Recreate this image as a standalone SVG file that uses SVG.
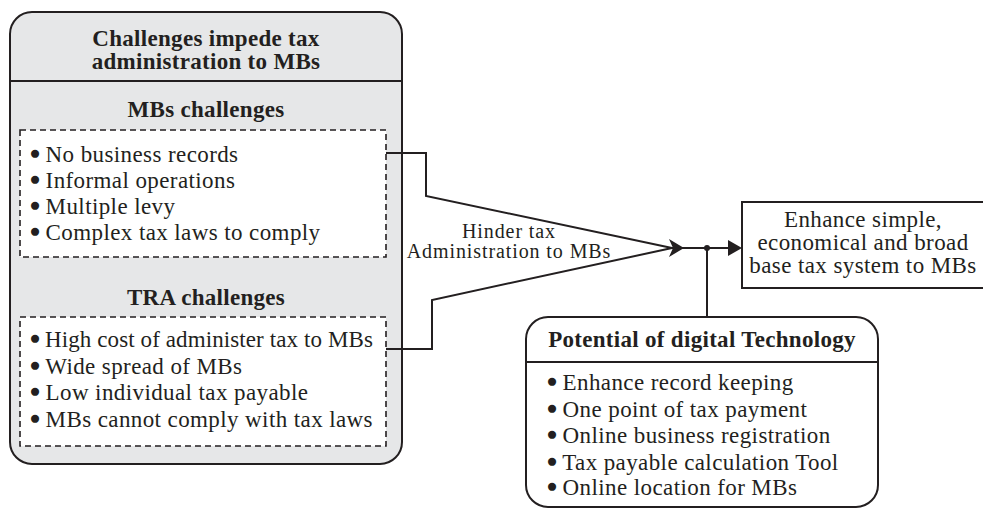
<svg xmlns="http://www.w3.org/2000/svg" width="983" height="509" viewBox="0 0 983 509">
<style>
  .t { font-family: "Liberation Serif", "Times New Roman", serif; fill: #231f20; }
  .b { font-weight: bold; font-size: 23px; letter-spacing: 0.3px; text-anchor: middle; }
  .r { font-size: 23px; letter-spacing: 0.4px; }
  .tight { letter-spacing: 0.1px; }
  .bl { stroke: #231f20; stroke-width: 2.6px; stroke-linejoin: round; }
  .c { text-anchor: middle; }
  .h { font-size: 20px; letter-spacing: 0.9px; }
  .box { stroke: #231f20; stroke-width: 2; }
  .dash { fill: #ffffff; stroke: #231f20; stroke-width: 1.6; stroke-dasharray: 6 4; }
  .con { fill: none; stroke: #231f20; stroke-width: 2; }
</style>
<rect width="983" height="509" fill="#ffffff"/>

<g id="challenges">
  <rect class="box" x="10" y="12" width="392" height="452" rx="22" fill="#e6e7e8"/>
  <line class="box" x1="10" y1="81" x2="402" y2="81"/>
  <text class="t b" x="206" y="46">Challenges impede tax</text>
  <text class="t b" x="206" y="69">administration to MBs</text>
</g>

<g id="mbs-challenges">
  <text class="t b" x="206" y="117">MBs challenges</text>
  <rect class="dash" x="20" y="130" width="366" height="127"/>
  <text class="t r" x="31" y="162"><tspan class="bl">•</tspan> No business records</text>
  <text class="t r" x="31" y="188"><tspan class="bl">•</tspan> Informal operations</text>
  <text class="t r" x="31" y="214"><tspan class="bl">•</tspan> Multiple levy</text>
  <text class="t r" x="31" y="240"><tspan class="bl">•</tspan> Complex tax laws to comply</text>
</g>

<g id="tra-challenges">
  <text class="t b" x="206" y="305">TRA challenges</text>
  <rect class="dash" x="20" y="317" width="366" height="129"/>
  <text class="t r tight" x="31" y="347"><tspan class="bl">•</tspan> High cost of administer tax to MBs</text>
  <text class="t r" x="31" y="374"><tspan class="bl">•</tspan> Wide spread of MBs</text>
  <text class="t r" x="31" y="400"><tspan class="bl">•</tspan> Low individual tax payable</text>
  <text class="t r" x="31" y="427"><tspan class="bl">•</tspan> MBs cannot comply with tax laws</text>
</g>

<g id="enhance">
  <rect class="box" x="742" y="202" width="245" height="86" fill="#ffffff"/>
  <text class="t r c" x="863" y="227">Enhance simple,</text>
  <text class="t r c" x="863" y="250">economical and broad</text>
  <text class="t r c" x="863" y="273">base tax system to MBs</text>
</g>

<g id="potential">
  <rect class="box" x="526" y="317" width="352" height="190" rx="22" fill="#ffffff"/>
  <line class="box" x1="526" y1="362" x2="878" y2="362"/>
  <text class="t b" x="702" y="347">Potential of digital Technology</text>
  <text class="t r" x="548" y="390"><tspan class="bl">•</tspan> Enhance record keeping</text>
  <text class="t r" x="548" y="417"><tspan class="bl">•</tspan> One point of tax payment</text>
  <text class="t r" x="548" y="443"><tspan class="bl">•</tspan> Online business registration</text>
  <text class="t r" x="548" y="470"><tspan class="bl">•</tspan> Tax payable calculation Tool</text>
  <text class="t r" x="548" y="495"><tspan class="bl">•</tspan> Online location for MBs</text>
</g>

<g id="connectors">
  <polyline class="con" points="386,153 426,153 426,196 672,248"/>
  <polyline class="con" points="386,349 432,349 432,300 672,248"/>
  <line class="con" x1="672" y1="248" x2="730" y2="248"/>
  <line class="con" x1="707" y1="248" x2="707" y2="317"/>
  <polygon points="669,239 684,248 669,257 673,248" fill="#231f20"/>
  <polygon points="728,240 742,248 728,256" fill="#231f20"/>
  <circle cx="707" cy="248" r="3" fill="#231f20"/>
  <text class="t h c" x="509" y="238">Hinder tax</text>
  <text class="t h c" x="509" y="258">Administration to MBs</text>
</g>
</svg>
